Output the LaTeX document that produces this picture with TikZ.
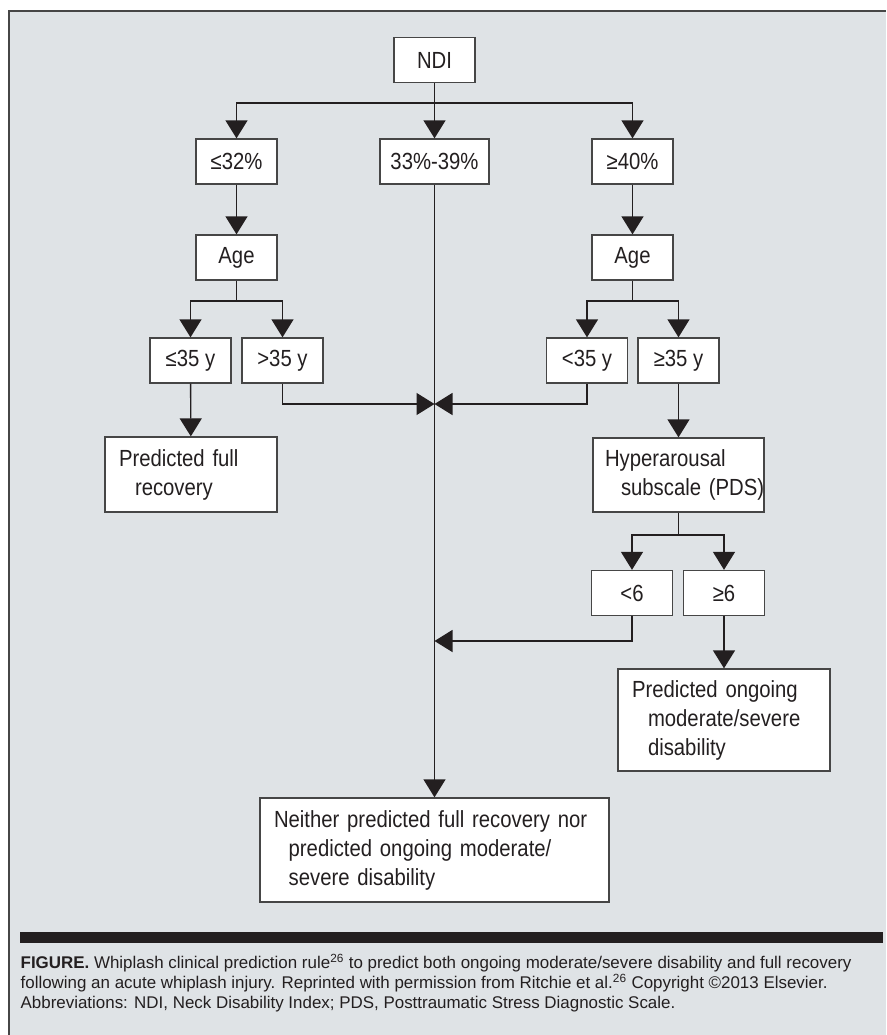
\documentclass[tikz,border=0pt]{standalone}
\usepackage{fontspec}
\setmainfont{Liberation Sans}
\newfontfamily\boxfont[FakeStretch=0.87]{Liberation Sans}
\usetikzlibrary{arrows.meta}

\definecolor{panel}{RGB}{223,227,230}
\definecolor{ink}{RGB}{35,31,32}
\definecolor{boxline}{RGB}{70,70,70}

\begin{document}
\begin{tikzpicture}[x=0.75pt, y=-0.75pt, ->, >={Triangle[length=13.5pt,width=16.5pt]}, color=ink, line width=1pt,
	box/.style={draw=boxline, fill=white, font=\boxfont\fontsize{17.5pt}{21.75pt}\selectfont, minimum width=60.75pt, minimum height=33.75pt, inner sep=2pt},
	outcome/.style={box, align=left, inner xsep=10.5pt},
	captext/.style={anchor=base west, inner sep=0pt, font=\fontsize{12.7pt}{15pt}\selectfont}]

		\useasboundingbox (0,0) rectangle (886,1035);
		\fill[panel] (9,11) rectangle (886,1035);
		\draw[-, boxline, line width=1.2pt] (9,1035) -- (9,11) -- (886,11);

		\node[box] (ndi) at (434.5,60) {NDI};
		\node[box] (low) at (236.5,161.5) {≤32\%};
		\node[box, minimum width=81.75pt] (mid) at (434.5,161.5) {33\%-39\%};
		\node[box] (high) at (632.5,161.5) {≥40\%};
		\node[box] (agel) at (236.5,257.5) {Age};
		\node[box] (ager) at (632.5,257.5) {Age};
		\node[box] (young) at (190.5,360.5) {≤35 y};
		\node[box] (old) at (282.5,360.5) {>35 y};
		\node[box] (younger) at (587,360.5) {<35 y};
		\node[box] (older) at (678.5,360.5) {≥35 y};
		\node[outcome, text width=108pt, minimum height=56.25pt] (full) at (191,474.5) {\mbox{Predicted full}\\\hspace*{12pt}\mbox{recovery}};
		\node[outcome, inner xsep=9pt, text width=110.25pt, minimum height=55.5pt] (hyper) at (678.5,475) {\mbox{Hyperarousal}\\\hspace*{12pt}\mbox{subscale (PDS)}};
		\node[box] (lt6) at (632,593) {<6};
		\node[box] (ge6) at (724,593) {≥6};
		\node[outcome, text width=138pt, minimum height=76.5pt] (ongoing) at (724,720) {\mbox{Predicted ongoing}\\\hspace*{12pt}\mbox{moderate/severe}\\\hspace*{12pt}\mbox{disability}};
		\node[outcome, text width=240.75pt, minimum height=78pt] (neither) at (434.5,850) {\mbox{Neither predicted full recovery nor}\\\hspace*{11pt}\mbox{predicted ongoing moderate/}\\\hspace*{11pt}\mbox{severe disability}};

		% forks and joins
		\coordinate (forka) at (434.5,103);
		\coordinate (forkb) at (236.5,301);
		\coordinate (forkc) at (632.5,301);
		\coordinate (forkd) at (678.5,535);
		\coordinate (joina) at (434.5,404);
		\coordinate (joinb) at (434.5,641);

		\path
		(ndi) edge (mid)
		(low) edge (agel)
		(high) edge (ager)
		(young) edge (full)
		(mid) edge (neither)
		(older) edge (hyper)
		(ge6) edge (ongoing);

		\draw (forka) -| (low);
		\draw (forka) -| (high);
		\draw[-] (agel) -- (forkb);
		\draw (forkb) -| (young);
		\draw (forkb) -| (old);
		\draw[-] (ager) -- (forkc);
		\draw (forkc) -| (younger);
		\draw (forkc) -| (older);
		\draw (old) |- (joina);
		\draw (younger) |- (joina);
		\draw[-] (hyper) -- (forkd);
		\draw (forkd) -| (lt6);
		\draw (forkd) -| (ge6);
		\draw (lt6) |- (joinb);

		% caption
		\fill[ink] (20,932) rectangle (883,943);
		\node[captext] (cap1) at (20,968) {\textbf{FIGURE.} Whiplash clinical prediction rule\textsuperscript{26} to predict both ongoing moderate/severe disability and full recovery};
		\node[captext] (cap2) at (20,988) {following an acute whiplash injury. Reprinted with permission from Ritchie et al.\textsuperscript{26} Copyright ©2013 Elsevier.};
		\node[captext] (cap3) at (20,1008) {Abbreviations: NDI, Neck Disability Index; PDS, Posttraumatic Stress Diagnostic Scale.};

\end{tikzpicture}
\end{document}
